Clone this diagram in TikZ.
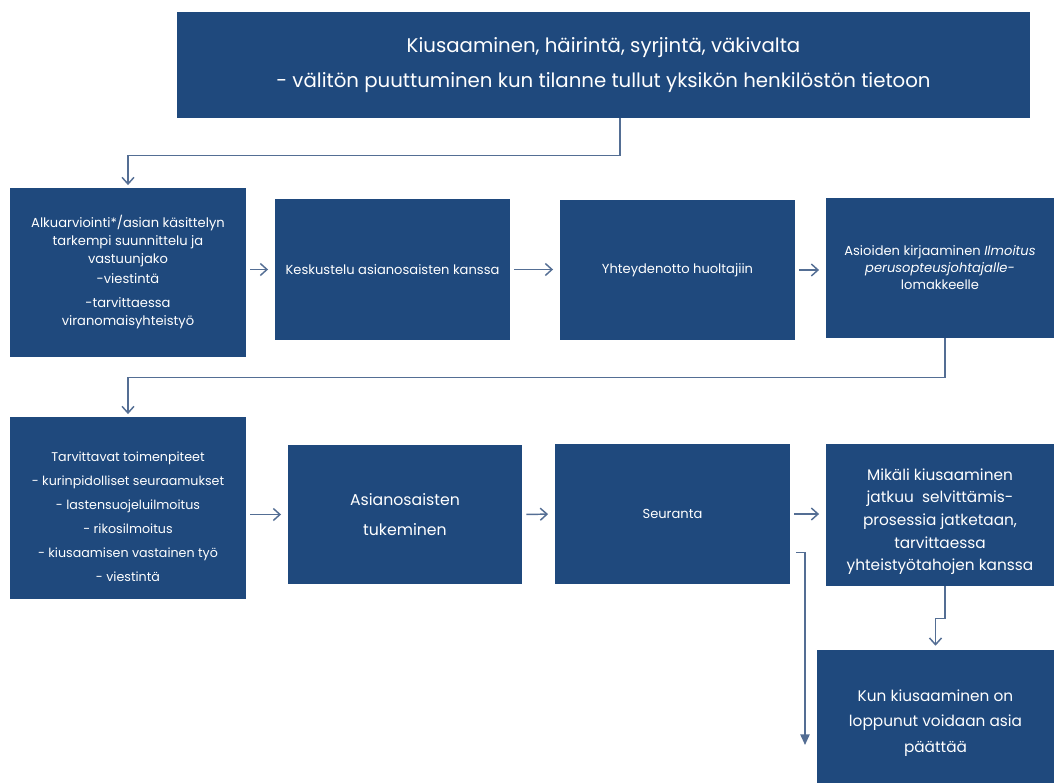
\documentclass[tikz,border=0pt]{standalone}
\usepackage{fontspec}
\setmainfont{Poppins}
\usetikzlibrary{arrows.meta}
\definecolor{boxblue}{RGB}{31,73,125}
\definecolor{linkblue}{RGB}{84,110,148}

\begin{document}
\begin{tikzpicture}[x = 0.75pt, y = -0.75pt,
  box/.style = {fill = boxblue, text = white, align = center, inner sep = 0pt},
  size/.style 2 args = {minimum width = #1*0.75pt, minimum height = #2*0.75pt},
  small/.style = {font = \fontsize{9.8}{13.5}\selectfont},
  flow/.style = {draw = linkblue, line width = 1.1pt, -{Straight Barb[length = 5pt, width = 9pt]}},
  gap/.style = {shorten < = 3pt, shorten > = 5pt}]
\useasboundingbox (0,0) rectangle (1054,783);

\node[box, size = {853}{106}, font = \fontsize{14.8}{26}\selectfont] (TOP) at (603.5,65)
  {Kiusaaminen, häirintä, syrjintä, väkivalta\\- välitön puuttuminen kun tilanne tullut yksikön henkilöstön tietoon};

\node[box, small, size = {236}{169}] (B1) at (128,272.5)
  {Alkuarviointi*/asian käsittelyn\\tarkempi suunnittelu ja\\vastuunjako\\[1pt]-viestintä\\[5pt]-tarvittaessa\\viranomaisyhteistyö};
\node[box, small, size = {235}{141}] (B2) at (392.5,269.5) {Keskustelu asianosaisten kanssa};
\node[box, small, size = {235}{140}] (B3) at (677.5,270) {Yhteydenotto huoltajiin};
\node[box, font = \fontsize{9.8}{12.75}\selectfont, size = {228}{140}] (B4) at (940,268)
  {Asioiden kirjaaminen \textit{Ilmoitus}\\\textit{perusopteusjohtajalle-}\\lomakkeelle};

\node[box, size = {236}{182}, font = \fontsize{9.5}{18}\selectfont] (C1) at (128,508)
  {\rule{0pt}{20.5pt}Tarvittavat toimenpiteet\\- kurinpidolliset seuraamukset\\- lastensuojeluilmoitus\\- rikosilmoitus\\- kiusaamisen vastainen työ\\- viestintä};
\node[box, size = {234}{139}, font = \fontsize{11.8}{22}\selectfont] (C2) at (405,514.5) {Asianosaisten\\tukeminen};
\node[box, small, size = {235}{140}] (C3) at (672.5,514) {Seuranta};
\node[box, size = {228}{142}, font = \fontsize{11.5}{17}\selectfont] (C4) at (940,515)
  {\rule{0pt}{18.5pt}Mikäli kiusaaminen\\jatkuu\ \ selvittämis-\\prosessia jatketaan,\\tarvittaessa\\yhteistyötahojen kanssa};
\node[box, size = {237}{133}, font = \fontsize{11.5}{19}\selectfont] (D) at (935.5,716.5)
  {\rule{0pt}{18.5pt}Kun kiusaaminen on\\loppunut voidaan asia\\päättää};
\coordinate (END) at (805,745);

\draw[flow, shorten > = 2pt] ([xshift = 12.4pt]TOP.south) -- ++(0,37) -| (B1.north);
\draw[flow, gap] (B1.east |- B2.west) -- (B2.west);
\draw[flow, gap] (B2.east) -- (B3.west |- B2.east);
\draw[flow, gap] (B3.east) -- (B4.west |- B3.east);
\draw[flow, shorten > = 2pt] ([xshift = 3.75pt]B4.south) -- ++(0,39) -| (C1.north);
\draw[flow, gap] (C1.east |- C2.west) -- (C2.west);
\draw[flow, gap] (C2.east) -- (C3.west);
\draw[flow, gap] (C3.east) -- (C4.west |- C3.east);
\draw[flow, shorten > = 3pt] ([xshift = 3.75pt]C4.south) -- ++(0,32) -| (D.north);
\draw[draw = linkblue, line width = 1.1pt, -{Triangle[length = 8pt, width = 7pt]}] ([shift = {(6,-32)}]C3.south east) -| (END);
\end{tikzpicture}
\end{document}
